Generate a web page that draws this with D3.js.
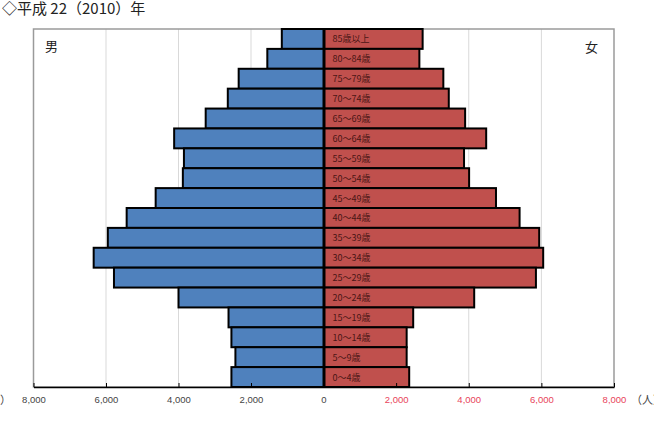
<!DOCTYPE html>
<html>
<head>
<meta charset="utf-8">
<script src="https://d3js.org/d3.v7.min.js"></script>
<style>
  body { margin: 0; background: #fff; }
  svg { display: block; font-family: "Noto Sans CJK JP", "Noto Sans", sans-serif; }
</style>
</head>
<body>
<svg id="chart" width="654" height="423"></svg>
<script>
// age groups, top to bottom
const ageGroups = ['85歳以上', '80～84歳', '75～79歳', '70～74歳', '65～69歳', '60～64歳',
  '55～59歳', '50～54歳', '45～49歳', '40～44歳', '35～39歳', '30～34歳',
  '25～29歳', '20～24歳', '15～19歳', '10～14歳', '5～9歳', '0～4歳'];
const male = [1150, 1550, 2340, 2640, 3250, 4120, 3850, 3880, 4630, 5430, 5950, 6340,
  5780, 4000, 2620, 2540, 2430, 2540];
const female = [2730, 2640, 3300, 3450, 3900, 4480, 3870, 4010, 4750, 5400, 5940, 6050,
  5850, 4150, 2470, 2290, 2290, 2360];
const gridTicks = [2000, 4000, 6000];
const axisTicks = [0, 2000, 4000, 6000, 8000];

const svg = d3.select('#chart');
const plotTop = 29, plotBottom = 387, plotLeft = 33.5, plotRight = 614, mid = 323.5;

const xL = d3.scaleLinear().domain([0, 8000]).range([mid, plotLeft]);
const xR = d3.scaleLinear().domain([0, 8000]).range([mid, plotRight]);
const y = d3.scaleBand().domain(ageGroups).range([plotTop, plotBottom]).padding(0);

// title
svg.append('text').attr('x', 2).attr('y', 14)
  .attr('font-size', 15).attr('fill', '#222')
  .text('◇平成 22（2010）年');

// gridlines
const grid = svg.append('g');
gridTicks.forEach(t => {
  [xL(t), xR(t)].forEach(gx => {
    grid.append('line')
      .attr('x1', gx).attr('x2', gx).attr('y1', plotTop).attr('y2', plotBottom)
      .attr('stroke', '#d9d9d9').attr('stroke-width', 1);
  });
});

// frame
svg.append('rect')
  .attr('x', plotLeft).attr('y', plotTop)
  .attr('width', plotRight - plotLeft).attr('height', plotBottom - plotTop)
  .attr('fill', 'none').attr('stroke', '#9a9a9a').attr('stroke-width', 1.5);

// male bars
svg.append('g').selectAll('rect')
  .data(male)
  .join('rect')
  .attr('x', d => xL(d))
  .attr('y', (d, i) => y(ageGroups[i]))
  .attr('width', d => mid - xL(d))
  .attr('height', y.bandwidth())
  .attr('fill', '#4f81bd')
  .attr('stroke', '#000').attr('stroke-width', 2);

// female bars
svg.append('g').selectAll('rect')
  .data(female)
  .join('rect')
  .attr('x', mid + 1)
  .attr('y', (d, i) => y(ageGroups[i]))
  .attr('width', d => xR(d) - mid - 1)
  .attr('height', y.bandwidth())
  .attr('fill', '#c0504d')
  .attr('stroke', '#000').attr('stroke-width', 2);

// age labels
svg.append('g').selectAll('text')
  .data(ageGroups)
  .join('text')
  .attr('x', mid + 9)
  .attr('y', d => y(d) + y.bandwidth() / 2 + 3.5)
  .attr('font-size', 9)
  .attr('fill', '#4a1616')
  .text(d => d);

// axes
const axisL = d3.axisBottom(xL).tickValues(axisTicks)
  .tickFormat(d3.format(',')).tickSizeInner(-4).tickSizeOuter(0).tickPadding(9);
const axisR = d3.axisBottom(xR).tickValues(axisTicks.slice(1))
  .tickFormat(d3.format(',')).tickSizeInner(-4).tickSizeOuter(0).tickPadding(9);

const gL = svg.append('g').attr('transform', `translate(0,${plotBottom})`).call(axisL);
const gR = svg.append('g').attr('transform', `translate(0,${plotBottom})`).call(axisR);
[gL, gR].forEach(g => {
  g.select('.domain').attr('stroke', '#000').attr('stroke-width', 1.5);
  g.selectAll('.tick line').attr('stroke', '#000');
  g.selectAll('.tick text').attr('font-size', 9.5)
    .attr('font-family', '"Liberation Sans", Arial, sans-serif');
});
gL.selectAll('.tick text').attr('fill', '#444');
gR.selectAll('.tick text').attr('fill', '#e8445a');

// unit labels, cut by the page edges as in the source image
svg.append('text').attr('x', -22).attr('y', 404).attr('font-size', 11).attr('fill', '#444').text('（人）');
svg.append('text').attr('x', 631).attr('y', 404).attr('font-size', 11).attr('fill', '#444').text('（人）');

// sex labels
svg.append('text').attr('x', 45).attr('y', 51).attr('font-size', 13).attr('fill', '#222').text('男');
svg.append('text').attr('x', 585).attr('y', 52).attr('font-size', 13).attr('fill', '#222').text('女');
</script>
</body>
</html>
